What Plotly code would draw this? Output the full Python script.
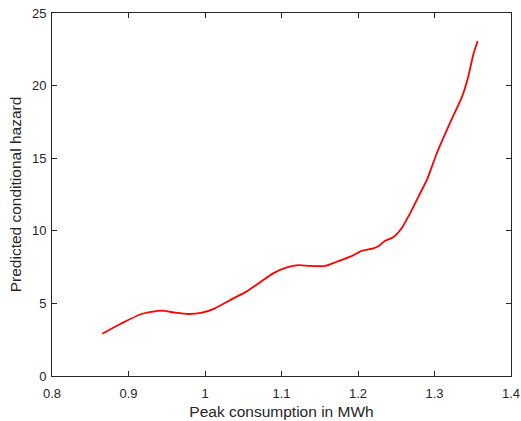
import plotly.graph_objects as go

peak_mwh = [0.8658, 0.891, 0.917, 0.943, 0.961, 0.978, 0.996, 1.013, 1.034,
            1.054, 1.072, 1.089, 1.107, 1.122, 1.137, 1.157, 1.172, 1.190,
            1.205, 1.220, 1.227, 1.235, 1.246, 1.257, 1.268, 1.279, 1.290,
            1.303, 1.320, 1.336, 1.344, 1.351, 1.3565]
hazard = [2.91, 3.63, 4.27, 4.50, 4.36, 4.27, 4.36, 4.66, 5.26,
          5.81, 6.45, 7.07, 7.48, 7.64, 7.58, 7.58, 7.87, 8.22,
          8.62, 8.79, 8.95, 9.30, 9.55, 10.17, 11.2, 12.35, 13.5,
          15.34, 17.4, 19.24, 20.6, 22.2, 23.07]

x_ticks = [0.8, 0.9, 1.0, 1.1, 1.2, 1.3, 1.4]
x_tick_labels = ["0.8", "0.9", "1", "1.1", "1.2", "1.3", "1.4"]
y_ticks = [0, 5, 10, 15, 20, 25]

FONT = "Liberation Sans, Arial"

fig = go.Figure()
fig.add_trace(go.Scatter(x=peak_mwh, y=hazard, mode="lines",
                         line=dict(color="#ff0000", width=1.8, shape="spline", smoothing=0.6),
                         showlegend=False))

axis_common = dict(showgrid=False, zeroline=False, showline=True, linecolor="#262626",
                   linewidth=1, mirror="allticks", ticks="inside", ticklen=5,
                   tickcolor="#262626", automargin=False,
                   tickfont=dict(family=FONT, size=13, color="#262626"))

fig.update_layout(
    width=521, height=421,
    margin=dict(l=52, r=10, t=13, b=45),
    paper_bgcolor="white", plot_bgcolor="white",
    xaxis=dict(range=[0.8, 1.4], tickvals=x_ticks, ticktext=x_tick_labels,
               ticklabelstandoff=5,
               title=dict(text="Peak consumption in MWh", standoff=6,
                          font=dict(family=FONT, size=15.5, color="#262626")),
               **axis_common),
    yaxis=dict(range=[0, 25], tickvals=y_ticks, ticklabelstandoff=2,
               title=dict(text="Predicted conditional hazard", standoff=6,
                          font=dict(family=FONT, size=15.5, color="#262626")),
               **axis_common),
)

fig.write_html("out.html")
